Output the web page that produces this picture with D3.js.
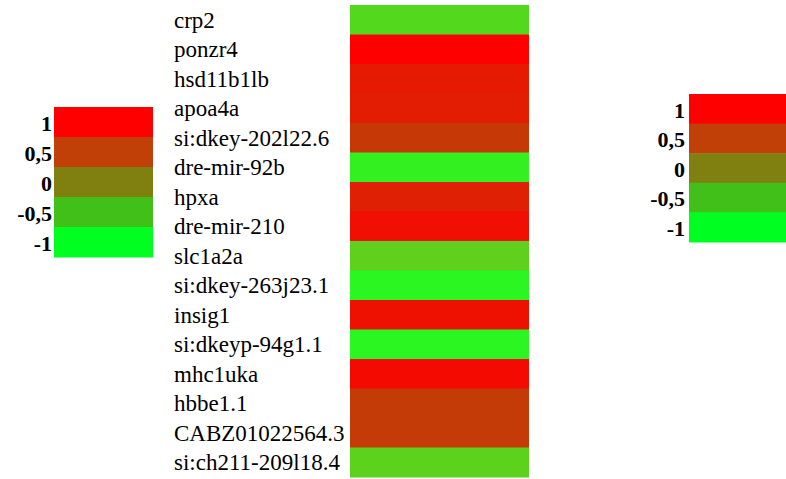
<!DOCTYPE html>
<html>
<head>
<meta charset="utf-8">
<script src="https://cdn.jsdelivr.net/npm/d3@7"></script>
<style>
  body { margin: 0; background: #fff; }
  svg text { font-family: "Liberation Serif", "Times New Roman", Times, serif; }
</style>
</head>
<body>
<div class="chart"></div>
<script>
const WIDTH = 786
const HEIGHT = 479

// genes, top to bottom
const genes = ["crp2", "ponzr4", "hsd11b1lb", "apoa4a", "si:dkey-202l22.6", "dre-mir-92b",
  "hpxa", "dre-mir-210", "slc1a2a", "si:dkey-263j23.1", "insig1", "si:dkeyp-94g1.1",
  "mhc1uka", "hbbe1.1", "CABZ01022564.3", "si:ch211-209l18.4"];
// values (-1 green .. 1 red)
const values = [-0.59, 1, 0.8, 0.77, 0.56, -0.85, 0.75, 0.88, -0.51, -0.91, 0.87, -0.91,
  0.92, 0.54, 0.54, -0.53];
// legend
const legendValues = [1, 0.5, 0, -0.5, -1];
const legendLabels = ["1", "0,5", "0", "-0,5", "-1"];

// legend swatches (and red cells)
const color = d3.scaleLinear()
  .domain([-1, 0, 1])
  .range(["#00ff20", "#808010", "#ff0000"]);

// green cells come out brighter than the legend
const greenColor = d3.scaleLinear()
  .domain([-1, 0])
  .range(["#20ff22", "#a0a016"]);

const cellFill = v => v < 0 ? greenColor(v) : color(v);

const svg = d3.select("div.chart")
  .append("svg")
  .attr("width", WIDTH)
  .attr("height", HEIGHT);

// heatmap column
const y = d3.scaleBand()
  .domain(genes)
  .range([5, 477]);

svg.selectAll("rect.cell")
  .data(genes)
  .enter()
  .append("rect")
  .attr("class", "cell")
  .attr("x", 350)
  .attr("y", d => y(d))
  .attr("width", 179)
  .attr("height", y.bandwidth() + 0.5)
  .style("fill", (d, i) => cellFill(values[i]));

svg.selectAll("text.gene")
  .data(genes)
  .enter()
  .append("text")
  .attr("class", "gene")
  .attr("x", 174)
  .attr("y", d => y(d) + 22.5)
  .style("font-size", "23px")
  .style("fill", "#000")
  .text(d => d);

// legends, one each side
function legend(x0, y0, y1, labelX) {
  const ly = d3.scaleBand()
    .domain(legendLabels)
    .range([y0, y1]);
  const g = svg.append("g");
  g.selectAll("rect")
    .data(legendLabels)
    .enter()
    .append("rect")
    .attr("x", x0)
    .attr("y", d => ly(d))
    .attr("width", 99)
    .attr("height", ly.bandwidth() + 0.5)
    .style("fill", (d, i) => color(legendValues[i]));
  g.selectAll("text")
    .data(legendLabels)
    .enter()
    .append("text")
    .attr("x", labelX)
    .attr("y", d => ly(d) + 23.5)
    .attr("text-anchor", "end")
    .style("font-size", "22px")
    .style("font-weight", "bold")
    .text(d => d);
}

legend(54, 107, 257, 52);
legend(689, 94, 242, 685);
</script>
</body>
</html>
